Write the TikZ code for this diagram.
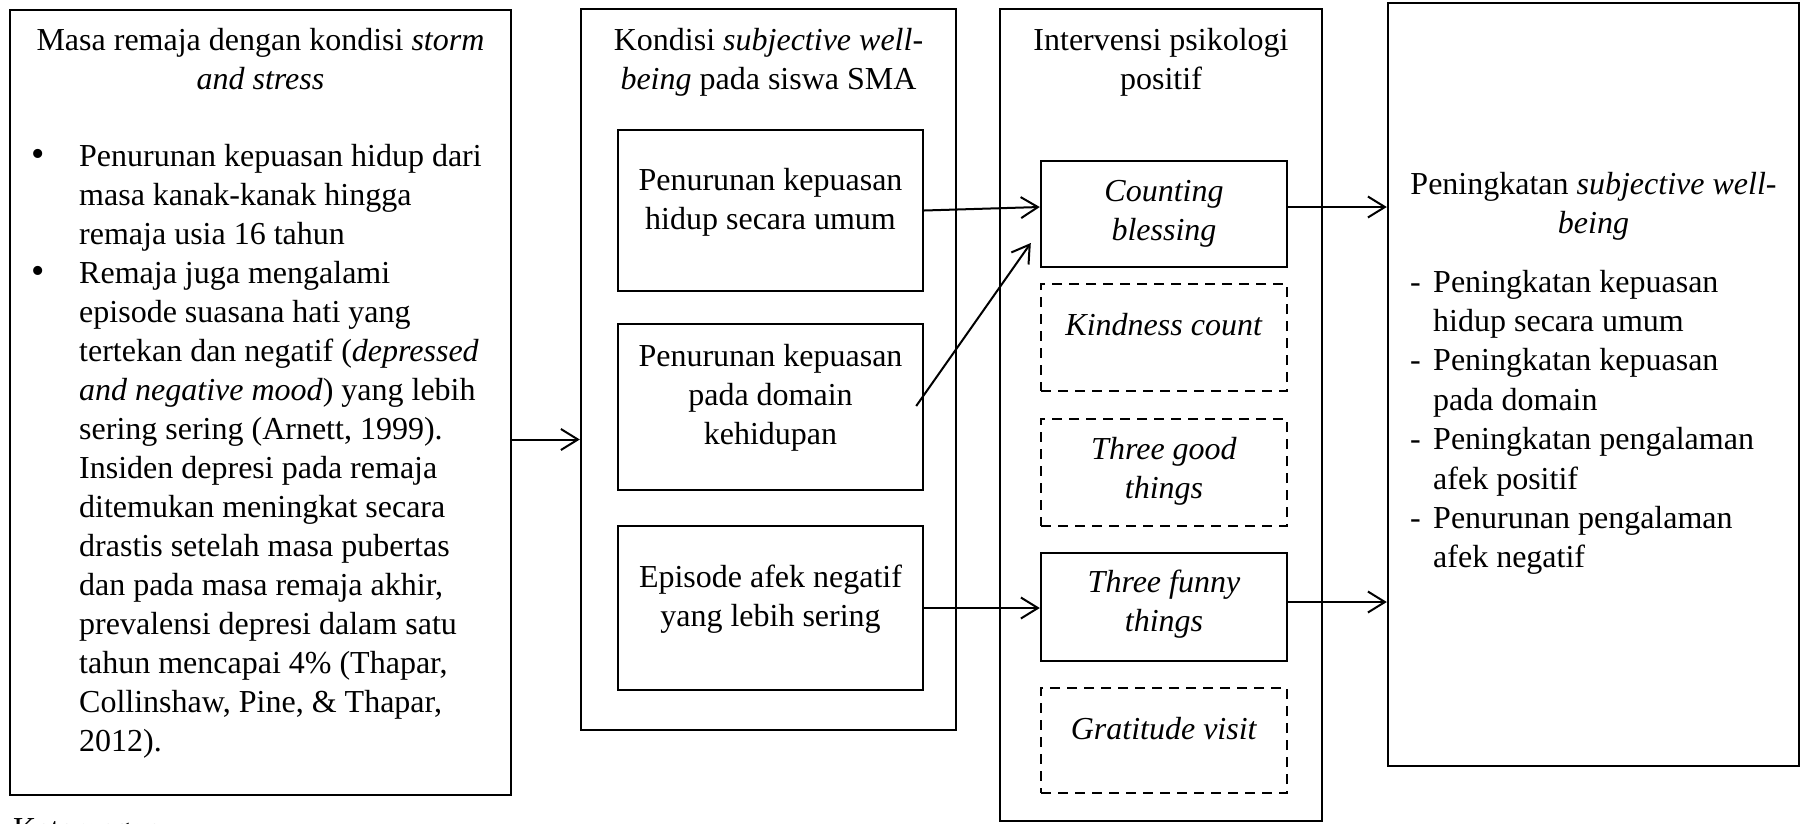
\documentclass[tikz,border=0pt]{standalone}
\usepackage{fontspec}
\setmainfont{Liberation Serif}
\usetikzlibrary{calc}
\usetikzlibrary{arrows.meta}

\tikzset{
    kotak/.style={draw, line width=2.4pt, inner sep=0pt},
    kotakputus/.style={kotak, dash pattern=on 10pt off 7pt},
    teks/.style={inner sep=0pt, align=center, anchor=base},
    daftar/.style={inner sep=0pt, align=left, anchor=base west},
    panah/.style={line width=2pt, -{Straight Barb[length=17pt,width=21pt,line width=2pt]}},
}

\begin{document}
\begin{tikzpicture}[x=1pt, y=-1pt, font=\fontsize{32}{39}\selectfont]
        \useasboundingbox (0,0) rectangle (1804,823);
        % kotak kiri: masa remaja (teks berbaris banyak: base = baris terakhir)
        \node [kotak, minimum width=501pt, minimum height=785pt] (masa) at (260.5,402.5) {};
        \node [teks] (masaJudul) at (260.5,89) {Masa remaja dengan kondisi \textit{storm}\\\textit{and stress}};
        \node [teks] (titik1) at (38,166) {\fontsize{38}{39}\selectfont •};
        \node [teks] (titik2) at (38,283) {\fontsize{38}{39}\selectfont •};
        \node [daftar] (masaIsi) at (79,751) {Penurunan kepuasan hidup dari\\
            masa kanak-kanak hingga\\
            remaja usia 16 tahun\\
            Remaja juga mengalami\\
            episode suasana hati yang\\
            tertekan dan negatif (\textit{depressed}\\
            \textit{and negative mood}) yang lebih\\
            sering sering (Arnett, 1999).\\
            Insiden depresi pada remaja\\
            ditemukan meningkat secara\\
            drastis setelah masa pubertas\\
            dan pada masa remaja akhir,\\
            prevalensi depresi dalam satu\\
            tahun mencapai 4\% (Thapar,\\
            Collinshaw, Pine, \& Thapar,\\
            2012).};
        \node [daftar] (ket) at (13,839) {Keterangan:};

        % kotak kondisi subjective well-being
        \node [kotak, minimum width=375pt, minimum height=721pt] (kondisi) at (768.5,369.5) {};
        \node [teks] (kondisiJudul) at (768.5,89) {Kondisi \textit{subjective well-}\\\textit{being} pada siswa SMA};
        \node [kotak, minimum width=305pt, minimum height=161pt] (turun1) at (770.5,210.5) {};
        \node [kotak, minimum width=305pt, minimum height=166pt] (turun2) at (770.5,407) {};
        \node [kotak, minimum width=305pt, minimum height=164pt] (turun3) at (770.5,608) {};
        \node [teks] (turun1Teks) at (770.5,229) {Penurunan kepuasan\\hidup secara umum};
        \node [teks] (turun2Teks) at (770.5,444) {Penurunan kepuasan\\pada domain\\kehidupan};
        \node [teks] (turun3Teks) at (770.5,626) {Episode afek negatif\\yang lebih sering};

        % kotak intervensi psikologi positif
        \node [kotak, minimum width=322pt, minimum height=812pt] (intervensi) at (1161,415) {};
        \node [teks] (intervensiJudul) at (1161,89) {Intervensi psikologi\\positif};
        \node [kotak, minimum width=246pt, minimum height=106pt] (counting) at (1164,214) {};
        \node [kotakputus, minimum width=246pt, minimum height=107pt] (kindness) at (1164,337.5) {};
        \node [kotakputus, minimum width=246pt, minimum height=107pt] (good) at (1164,472.5) {};
        \node [kotak, minimum width=246pt, minimum height=108pt] (funny) at (1164,607) {};
        \node [kotakputus, minimum width=246pt, minimum height=105pt] (gratitude) at (1164,740.5) {};
        \node [teks] (countingTeks) at (1164,240) {\textit{Counting}\\\textit{blessing}};
        \node [teks] (kindnessTeks) at (1164,335) {\textit{Kindness count}};
        \node [teks] (goodTeks) at (1164,498) {\textit{Three good}\\\textit{things}};
        \node [teks] (funnyTeks) at (1164,631) {\textit{Three funny}\\\textit{things}};
        \node [teks] (gratitudeTeks) at (1164,739) {\textit{Gratitude visit}};

        % kotak kanan: peningkatan subjective well-being
        \node [kotak, minimum width=411pt, minimum height=763pt] (hasil) at (1593.5,384.5) {};
        \node [teks] (hasilJudul) at (1593.5,233) {Peningkatan \textit{subjective well-}\\\textit{being}};
        \node [daftar] (strip1) at (1410,292) {-};
        \node [daftar] (strip2) at (1410,370.8) {-};
        \node [daftar] (strip3) at (1410,449.6) {-};
        \node [daftar] (strip4) at (1410,528.4) {-};
        \node [daftar, font=\fontsize{32}{39.4}\selectfont] (hasilIsi) at (1433,567.8) {Peningkatan kepuasan\\
            hidup secara umum\\
            Peningkatan kepuasan\\
            pada domain\\
            Peningkatan pengalaman\\
            afek positif\\
            Penurunan pengalaman\\
            afek negatif};

        % panah
        \coordinate (p1) at ($(masa.east)+(0,37)$);
        \draw [panah] (p1) -- (p1 -| kondisi.west);
        \draw [panah] (turun1.east) -- ($(counting.west)+(0,-7)$);
        \draw [panah] ($(turun2.east)+(-8,-1)$) -- ($(counting.west)+(-9,29)$);
        \draw [panah] (turun3.east) -- (turun3.east -| funny.west);
        \coordinate (p2) at ($(counting.east)+(0,-7)$);
        \draw [panah] (p2) -- (p2 -| hasil.west);
        \coordinate (p3) at ($(funny.east)+(0,-5)$);
        \draw [panah] (p3) -- (p3 -| hasil.west);
    \end{tikzpicture}
\end{document}
